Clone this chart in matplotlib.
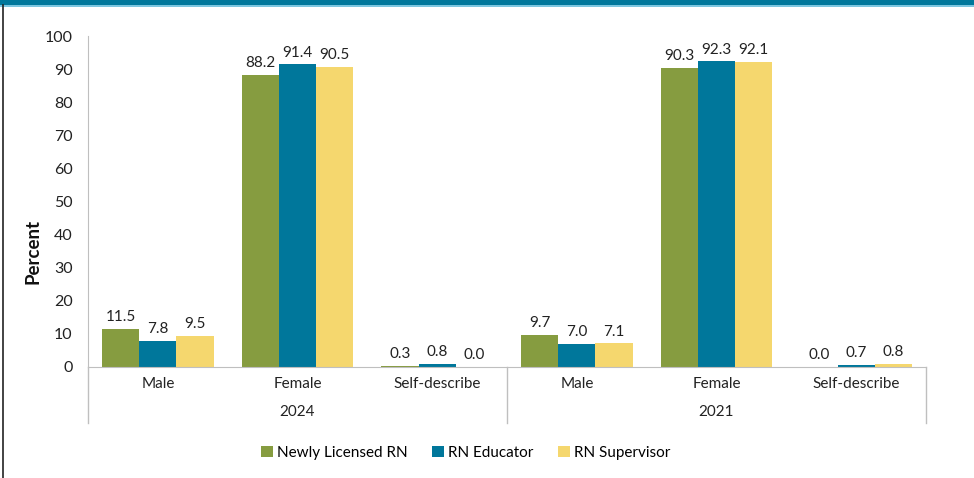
import matplotlib.pyplot as plt
from matplotlib.lines import Line2D
from matplotlib.patches import Rectangle
import numpy as np

plt.rcParams['font.family'] = ['Lato', 'DejaVu Sans']

years = ['2024', '2021']
genders = ['Male', 'Female', 'Self-describe']
series = ['Newly Licensed RN', 'RN Educator', 'RN Supervisor']
newly_licensed = [11.5, 88.2, 0.3, 9.7, 90.3, 0.0]
rn_educator = [7.8, 91.4, 0.8, 7.0, 92.3, 0.7]
rn_supervisor = [9.5, 90.5, 0.0, 7.1, 92.1, 0.8]

colors = ['#869c40', '#00779b', '#f5d76e']
values = [newly_licensed, rn_educator, rn_supervisor]

fig = plt.figure(figsize=(9.74, 4.78), dpi=100)
ax = fig.add_axes([88 / 974, 111 / 478, 838 / 974, 331 / 478])

x = np.arange(len(newly_licensed))
w = 0.266
for k, (vals, c, name) in enumerate(zip(values, colors, series)):
    pos = x + (k - 1) * w
    ax.bar(pos, vals, width=w, color=c, label=name, zorder=2)
    for p, v in zip(pos, vals):
        ax.text(p, v + 1.5, f'{v:.1f}', ha='center', va='bottom',
                fontsize=11, color='#222222')

ax.set_xlim(-0.5, len(x) - 0.5)
ax.set_ylim(0, 100)
ax.set_yticks(range(0, 101, 10))
ax.tick_params(axis='y', length=0, labelsize=11.5, pad=11, colors='#222222')
ax.set_xticks([])
for s in ['top', 'right']:
    ax.spines[s].set_visible(False)
ax.spines['left'].set_color('#bfbfbf')
ax.spines['bottom'].set_color('#bfbfbf')

# y title sits a bit below the middle of the axis
fig.text(33 / 974, 1 - 251 / 478, 'Percent', rotation=90, ha='center', va='center',
         fontsize=13.5, fontweight='bold', color='#111111')

# category labels and year groups under the axis
trans = ax.get_xaxis_transform()
for i in x:
    ax.text(i, -0.05, genders[i % 3], transform=trans, ha='center', va='center',
            fontsize=11, color='#222222')
for j, yr in enumerate(years):
    ax.text(3 * j + 1, -0.135, yr, transform=trans, ha='center', va='center',
            fontsize=11, color='#222222')
for xb in [-0.5, 2.5, 5.5]:
    ax.add_line(Line2D([xb, xb], [0, -0.17], transform=trans, color='#bfbfbf',
                       lw=1, clip_on=False))

ax.legend(loc='center', bbox_to_anchor=(466 / 974, 1 - 453 / 478),
          bbox_transform=fig.transFigure, ncol=3, frameon=False, fontsize=11,
          handlelength=0.75, handleheight=0.75, handletextpad=0.3, columnspacing=1.6)

# frame decoration: top band and left border
fig.add_artist(Rectangle((0, 1 - 5 / 478), 1, 5 / 478, transform=fig.transFigure,
                         color='#00779b', lw=0))
fig.add_artist(Rectangle((0, 1 - 6.5 / 478), 1, 1.5 / 478, transform=fig.transFigure,
                         color='#7cc6e0', lw=0))
fig.add_artist(Line2D([2.5 / 974, 2.5 / 974], [0, 1 - 5 / 478], transform=fig.transFigure,
                      color='#222222', lw=1.2))

fig.savefig('out.png', dpi=100)
